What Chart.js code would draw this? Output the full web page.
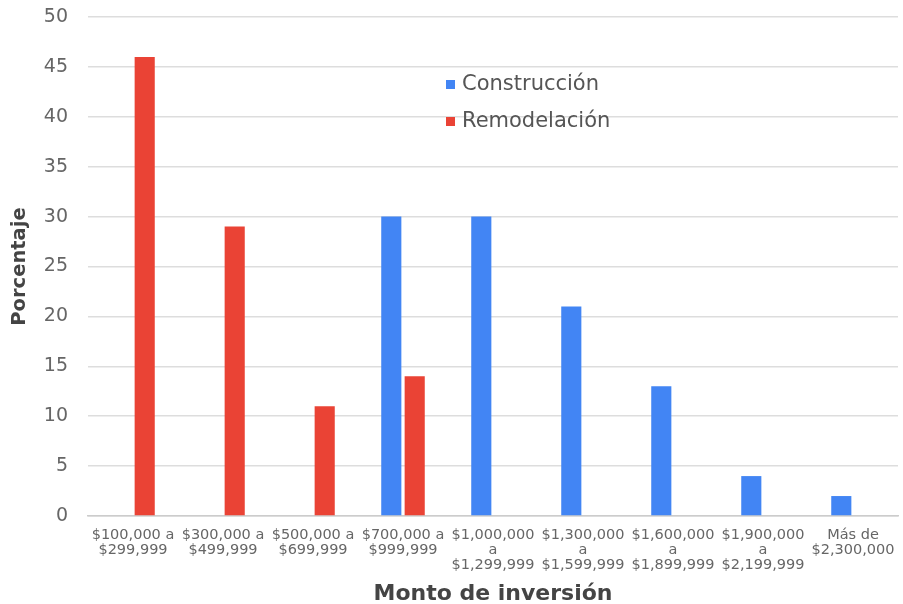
<!DOCTYPE html>
<html>
<head>
<meta charset="utf-8">
<script src="https://cdn.jsdelivr.net/npm/chart.js@4"></script>
<style>
  html, body { margin: 0; padding: 0; background: #fff; }
  #wrap { width: 903px; height: 604px; }
</style>
</head>
<body>
<div id="wrap"><canvas id="inversionChart"></canvas></div>
<script>
// rangos de inversión
const rangos = [
    ['$100,000 a', '$299,999'],
    ['$300,000 a', '$499,999'],
    ['$500,000 a', '$699,999'],
    ['$700,000 a', '$999,999'],
    ['$1,000,000', 'a', '$1,299,999'],
    ['$1,300,000', 'a', '$1,599,999'],
    ['$1,600,000', 'a', '$1,899,999'],
    ['$1,900,000', 'a', '$2,199,999'],
    ['Más de', '$2,300,000']
];
const construccion = [0, 0, 0, 30, 30, 21, 13, 4, 2];
const remodelacion = [46, 29, 11, 14, 0, 0, 0, 0, 0];

const FUENTE = '"DejaVu Sans", Verdana, sans-serif';

// leyenda dentro del área del gráfico
const leyendaInterna = {
    id: 'leyendaInterna',
    afterDraw(chart) {
        const ctx = chart.ctx;
        ctx.save();
        ctx.font = '21px ' + FUENTE;
        ctx.textBaseline = 'middle';
        chart.data.datasets.forEach((ds, i) => {
            const y = 84 + i * 37;
            ctx.fillStyle = ds.backgroundColor;
            ctx.fillRect(446, y - 4, 9, 9);
            ctx.fillStyle = '#555';
            ctx.fillText(ds.label, 462, y + 1);
        });
        ctx.restore();
    }
};

document.addEventListener('DOMContentLoaded', function () {
    const ctx = document.getElementById('inversionChart').getContext('2d');
    new Chart(ctx, {
        type: 'bar',
        data: {
            labels: rangos,
            datasets: [{
                label: 'Construcción',
                data: construccion,
                backgroundColor: '#4285F4',
                categoryPercentage: 0.52,
                barPercentage: 0.86
            }, {
                label: 'Remodelación',
                data: remodelacion,
                backgroundColor: '#EA4335',
                categoryPercentage: 0.52,
                barPercentage: 0.86
            }]
        },
        options: {
            responsive: true,
            maintainAspectRatio: false,
            animation: false,
            layout: { padding: { top: 17, right: 5, left: 0, bottom: 0 } },
            plugins: {
                legend: { display: false },
                tooltip: { enabled: false }
            },
            scales: {
                x: {
                    grid: { display: false },
                    border: { display: true, color: '#ccc', width: 1.5 },
                    ticks: {
                        color: '#666',
                        font: { family: FUENTE, size: 14.5, lineHeight: 1.04 },
                        padding: 4,
                        maxRotation: 0,
                        autoSkip: false
                    },
                    title: {
                        display: true,
                        text: 'Monto de inversión',
                        color: '#444',
                        font: { family: FUENTE, size: 22, weight: 'bold' },
                        padding: { top: 0, bottom: -3 }
                    },
                    afterFit(scale) { scale.height = 88; }
                },
                y: {
                    min: 0,
                    max: 50,
                    ticks: {
                        stepSize: 5,
                        color: '#666',
                        font: { family: FUENTE, size: 19 },
                        padding: 20
                    },
                    grid: {
                        color: '#ddd',
                        lineWidth: 1.5,
                        drawTicks: false
                    },
                    border: { display: false },
                    title: {
                        display: true,
                        text: 'Porcentaje',
                        color: '#444',
                        font: { family: FUENTE, size: 19.5, weight: 'bold' },
                        padding: { top: 8, bottom: 0 }
                    },
                    afterFit(scale) {
                        scale.width = 88;
                        scale.paddingTop = 0;
                        scale.paddingBottom = 0;
                    }
                }
            }
        },
        plugins: [leyendaInterna]
    });
});
</script>
</body>
</html>
